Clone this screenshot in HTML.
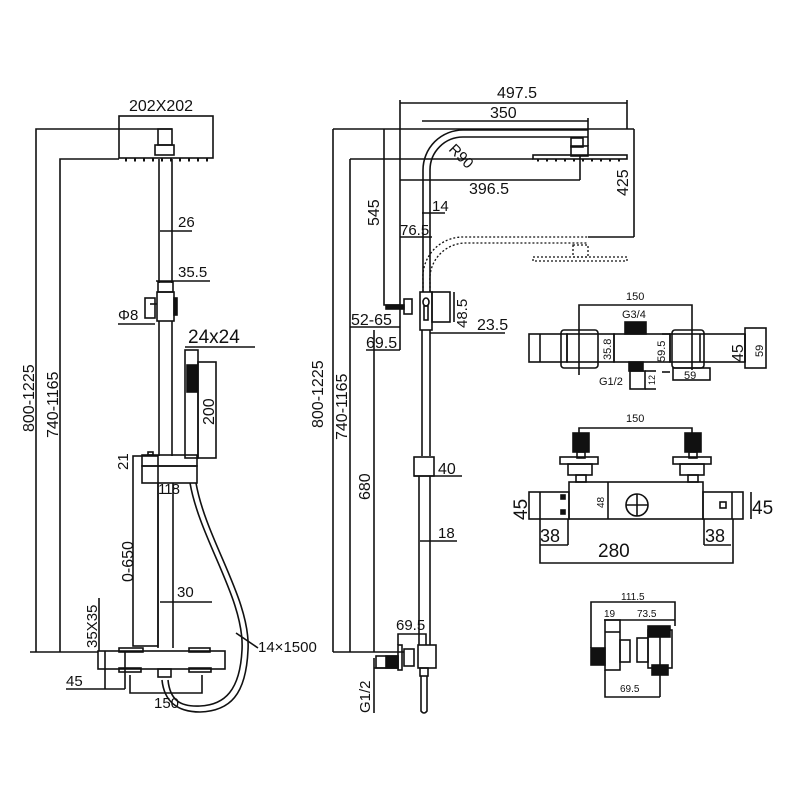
<!DOCTYPE html>
<html><head><meta charset="utf-8"><style>
html,body{margin:0;padding:0;background:#fff}
svg{display:block}
text{font-family:"Liberation Sans",sans-serif;fill:#111}
</style></head><body>
<svg width="800" height="800" viewBox="0 0 800 800" xmlns="http://www.w3.org/2000/svg">
<g fill="none" stroke="#111" stroke-width="1.6">
<!-- LEFT DRAWING -->
<rect x="119" y="116" width="94" height="42"/>
<polyline points="172,129 36,129 36,652"/>
<polyline points="119,159 60,159 60,652"/>
<line x1="30" y1="652" x2="98" y2="652"/>
<rect x="158" y="129" width="14" height="16"/>
<rect x="155" y="145" width="19" height="10"/>
<line x1="125" y1="160" x2="210" y2="160" stroke-dasharray="2 7" stroke-width="3"/>
<line x1="159" y1="159" x2="159" y2="283"/><line x1="172" y1="159" x2="172" y2="283"/>
<line x1="160" y1="231" x2="192" y2="231"/>
<line x1="156" y1="281" x2="210" y2="281"/>
<rect x="158" y="282" width="15" height="10"/>
<rect x="157" y="292" width="17" height="29"/>
<rect x="174" y="298" width="3" height="17" fill="#111"/>
<rect x="145" y="298" width="10" height="20"/>
<line x1="150" y1="304" x2="157" y2="304"/>
<line x1="118" y1="324" x2="155" y2="324"/>
<line x1="159" y1="321" x2="159" y2="456"/><line x1="172" y1="321" x2="172" y2="456"/>
<line x1="185" y1="347" x2="255" y2="347"/>
<rect x="185" y="350" width="13" height="108"/>
<rect x="198" y="362" width="18" height="96"/>
<rect x="187" y="365" width="10" height="27" fill="#111"/>
<rect x="142" y="455" width="55" height="11"/>
<rect x="142" y="466" width="55" height="17"/>
<rect x="148" y="452" width="5" height="3"/>
<rect x="133" y="456" width="25" height="190"/>
<line x1="158" y1="483" x2="158" y2="648"/><line x1="173" y1="483" x2="173" y2="648"/>
<line x1="160" y1="602" x2="212" y2="602"/>
<line x1="99" y1="598" x2="99" y2="651"/>
<rect x="98" y="651" width="127" height="18"/>
<line x1="105" y1="651" x2="105" y2="689"/><line x1="125" y1="651" x2="125" y2="689"/>
<rect x="119" y="648" width="24" height="4"/><rect x="189" y="648" width="21" height="4"/>
<rect x="119" y="668" width="22" height="4"/><rect x="189" y="668" width="22" height="4"/>
<rect x="158" y="669" width="13" height="8"/>
<line x1="66" y1="689" x2="125" y2="689"/>
<polyline points="130,675 130,693 202,693 202,675"/>
<path d="M190,483 C200,540 245,600 242,650 C240,690 225,705 200,706 C180,707 170,700 168,680"/>
<path d="M196,483 C206,540 251,600 248,650 C246,695 230,711 200,712 C176,712 164,700 162,680"/>
<line x1="236" y1="633" x2="258" y2="648"/>

<!-- MIDDLE DRAWING -->
<line x1="400" y1="103" x2="627" y2="103"/>
<line x1="627" y1="100" x2="627" y2="129"/>
<line x1="400" y1="100" x2="400" y2="350"/>
<line x1="422" y1="121" x2="588" y2="121"/>
<line x1="588" y1="118" x2="588" y2="146"/>
<line x1="333" y1="129" x2="634" y2="129"/>
<line x1="333" y1="129" x2="333" y2="652"/>
<line x1="350" y1="159" x2="533" y2="159"/>
<line x1="350" y1="159" x2="350" y2="652"/>
<path d="M423,292 L423,170 A40,40 0 0 1 463,130 L588,130"/>
<path d="M430,292 L430,170 A33,33 0 0 1 463,137 L588,137"/>
<rect x="571" y="138" width="12" height="9"/>
<rect x="571" y="146" width="17" height="10"/>
<rect x="533" y="155" width="94" height="4"/>
<line x1="537" y1="160" x2="625" y2="160" stroke-dasharray="2 7" stroke-width="3"/>
<line x1="400" y1="180" x2="580" y2="180"/>
<line x1="580" y1="156" x2="580" y2="180"/>
<line x1="634" y1="129" x2="634" y2="237"/>
<line x1="588" y1="237" x2="634" y2="237"/>
<g stroke-dasharray="2 2" stroke-width="1.3">
<path d="M423,292 L423,280 A40,40 0 0 1 463,237 L588,237"/>
<path d="M430,292 L430,282 A36,36 0 0 1 466,243 L588,243"/>
<rect x="573" y="245" width="15" height="12"/>
<rect x="533" y="257" width="94" height="4"/>
</g>
<polyline points="384,129 384,305 400,305"/>
<line x1="422" y1="213" x2="445" y2="213"/>
<line x1="400" y1="237" x2="432" y2="237"/>
<rect x="420" y="292" width="12" height="38"/>
<rect x="432" y="292" width="18" height="30"/>
<ellipse cx="426" cy="302" rx="3" ry="4"/>
<rect x="424" y="306" width="4" height="14"/>
<rect x="404" y="299" width="8" height="15"/>
<rect x="386" y="305" width="18" height="4" fill="#111"/>
<line x1="454" y1="292" x2="454" y2="322"/>
<line x1="350" y1="327" x2="400" y2="327"/>
<line x1="366" y1="350" x2="400" y2="350"/>
<line x1="430" y1="333" x2="505" y2="333"/>
<line x1="374" y1="330" x2="374" y2="652"/>
<line x1="422" y1="330" x2="422" y2="456"/><line x1="430" y1="330" x2="430" y2="456"/>
<rect x="414" y="457" width="20" height="19"/>
<line x1="414" y1="476" x2="462" y2="476"/>
<line x1="419" y1="476" x2="419" y2="645"/><line x1="430" y1="476" x2="430" y2="645"/>
<line x1="420" y1="541" x2="457" y2="541"/>
<polyline points="398,645 398,634 426,634 426,645"/>
<line x1="333" y1="652" x2="404" y2="652"/>
<rect x="418" y="645" width="18" height="23"/>
<rect x="398" y="645" width="4" height="25"/>
<rect x="404" y="649" width="10" height="17"/>
<rect x="376" y="656" width="22" height="12"/>
<rect x="386" y="656" width="12" height="12" fill="#111"/>
<polyline points="374,658 374,713"/>
<line x1="374" y1="668" x2="398" y2="668"/>
<rect x="420" y="668" width="8" height="8"/>
<path d="M421,676 L421,711 Q424,715 427,711 L427,676"/>

<!-- THERMOSTAT TOP VIEW -->
<polyline points="579,375 579,305 692,305 692,370"/>
<rect x="529" y="334" width="38" height="28"/>
<line x1="540" y1="334" x2="540" y2="362"/>
<rect x="561" y="330" width="37" height="38" rx="3"/>
<rect x="567" y="334" width="47" height="28"/>
<rect x="614" y="334" width="56" height="28"/>
<rect x="672" y="330" width="32" height="38" rx="3"/>
<rect x="670" y="334" width="75" height="28"/>
<line x1="700" y1="334" x2="700" y2="362"/>
<rect x="745" y="328" width="21" height="40"/>
<line x1="745" y1="334" x2="745" y2="362"/>
<rect x="625" y="322" width="21" height="12" fill="#111"/>
<rect x="629" y="362" width="14" height="9" fill="#111"/>
<rect x="630" y="371" width="15" height="18"/>
<line x1="645" y1="371" x2="656" y2="371"/><line x1="645" y1="389" x2="656" y2="389"/>
<line x1="662" y1="334" x2="670" y2="334"/><line x1="662" y1="372" x2="670" y2="372"/>
<rect x="673" y="368" width="37" height="12"/>

<!-- THERMOSTAT FRONT -->
<polyline points="579,436 579,428 692,428 692,436"/>
<rect x="573" y="433" width="16" height="19" fill="#111"/>
<rect x="685" y="433" width="16" height="19" fill="#111"/>
<rect x="577" y="452" width="8" height="6"/><rect x="689" y="452" width="8" height="6"/>
<rect x="560" y="457" width="38" height="7"/><rect x="673" y="457" width="38" height="7"/>
<rect x="568" y="464" width="24" height="11"/><rect x="680" y="464" width="24" height="11"/>
<rect x="576" y="475" width="10" height="7"/><rect x="688" y="475" width="10" height="7"/>
<rect x="569" y="482" width="134" height="37"/>
<line x1="608" y1="482" x2="608" y2="519"/>
<circle cx="637" cy="505" r="11"/>
<line x1="626" y1="505" x2="648" y2="505"/><line x1="637" y1="494" x2="637" y2="516"/>
<rect x="529" y="492" width="40" height="27"/>
<line x1="540" y1="492" x2="540" y2="519"/>
<rect x="561" y="495" width="4" height="4" fill="#111"/><rect x="561" y="510" width="4" height="4" fill="#111"/>
<rect x="703" y="492" width="40" height="27"/>
<line x1="732" y1="492" x2="732" y2="519"/>
<rect x="720" y="502" width="6" height="6"/>
<line x1="751" y1="492" x2="751" y2="519"/>
<polyline points="540,519 540,563 733,563 733,519"/>
<line x1="568" y1="519" x2="568" y2="545"/><line x1="540" y1="545" x2="568" y2="545"/>
<line x1="704" y1="519" x2="704" y2="545"/><line x1="704" y1="545" x2="731" y2="545"/>

<!-- FITTING -->
<polyline points="591,648 591,602 675,602 675,626"/>
<line x1="604" y1="620" x2="675" y2="620"/>
<rect x="605" y="620" width="15" height="50"/>
<line x1="605" y1="632" x2="620" y2="632"/>
<rect x="591" y="648" width="14" height="17" fill="#111"/>
<rect x="620" y="640" width="10" height="22"/>
<rect x="637" y="638" width="11" height="24"/>
<rect x="648" y="630" width="24" height="38"/>
<line x1="660" y1="630" x2="660" y2="697"/>
<rect x="648" y="626" width="22" height="11" fill="#111"/>
<rect x="652" y="665" width="16" height="10" fill="#111"/>
<polyline points="605,670 605,697 660,697"/>
</g>

<!-- TEXT -->
<g font-size="15">
<text x="129" y="111" font-size="16">202X202</text>
<text x="178" y="227">26</text>
<text x="178" y="277">35.5</text>
<text x="118" y="320">Φ8</text>
<text x="188" y="343" font-size="19">24x24</text>
<text transform="translate(214,425) rotate(-90)" font-size="16">200</text>
<text transform="translate(34,432) rotate(-90)" font-size="16">800-1225</text>
<text transform="translate(58,438) rotate(-90)" font-size="16">740-1165</text>
<text transform="translate(128,470) rotate(-90)">21</text>
<text x="158" y="494" letter-spacing="-1">118</text>
<text transform="translate(133,582) rotate(-90)" font-size="16">0-650</text>
<text x="177" y="597">30</text>
<text transform="translate(97,648) rotate(-90)">35X35</text>
<text x="66" y="686">45</text>
<text x="154" y="708">150</text>
<text x="258" y="652">14×1500</text>

<text x="497" y="98" font-size="16">497.5</text>
<text x="490" y="118" font-size="16">350</text>
<text transform="translate(448,150) rotate(45)" font-size="15">R90</text>
<text x="469" y="194" font-size="16">396.5</text>
<text transform="translate(628,196) rotate(-90)" font-size="16">425</text>
<text transform="translate(379,226) rotate(-90)" font-size="16">545</text>
<text x="432" y="211">14</text>
<text x="400" y="235">76.5</text>
<text transform="translate(467,328) rotate(-90)">48.5</text>
<text x="351" y="325" font-size="16">52-65</text>
<text x="366" y="348" font-size="16">69.5</text>
<text x="477" y="330" font-size="16">23.5</text>
<text transform="translate(323,428) rotate(-90)" font-size="16">800-1225</text>
<text transform="translate(347,440) rotate(-90)" font-size="16">740-1165</text>
<text transform="translate(370,500) rotate(-90)" font-size="16">680</text>
<text x="438" y="474" font-size="16">40</text>
<text x="438" y="538">18</text>
<text x="396" y="630">69.5</text>
<text transform="translate(370,713) rotate(-90)">G1/2</text>

<text x="626" y="300" font-size="11">150</text>
<text x="622" y="318" font-size="11">G3/4</text>
<text transform="translate(611,360) rotate(-90)" font-size="11">35.8</text>
<text transform="translate(665,362) rotate(-90)" font-size="11">59.5</text>
<text transform="translate(743,362) rotate(-90)" font-size="16">45</text>
<text transform="translate(763,357) rotate(-90)" font-size="11">59</text>
<text x="599" y="385" font-size="11">G1/2</text>
<text transform="translate(655,385) rotate(-90)" font-size="9">12</text>
<text x="684" y="379" font-size="11">59</text>

<text x="626" y="422" font-size="11">150</text>
<text transform="translate(604,508) rotate(-90)" font-size="10">48</text>
<text transform="translate(527,520) rotate(-90)" font-size="19">45</text>
<text x="752" y="514" font-size="19">45</text>
<text x="540" y="542" font-size="18">38</text>
<text x="705" y="542" font-size="18">38</text>
<text x="598" y="557" font-size="19">280</text>

<text x="621" y="600" font-size="10">111.5</text>
<text x="604" y="617" font-size="10">19</text>
<text x="637" y="617" font-size="10">73.5</text>
<text x="620" y="692" font-size="10">69.5</text>
</g>
</svg>
</body></html>
